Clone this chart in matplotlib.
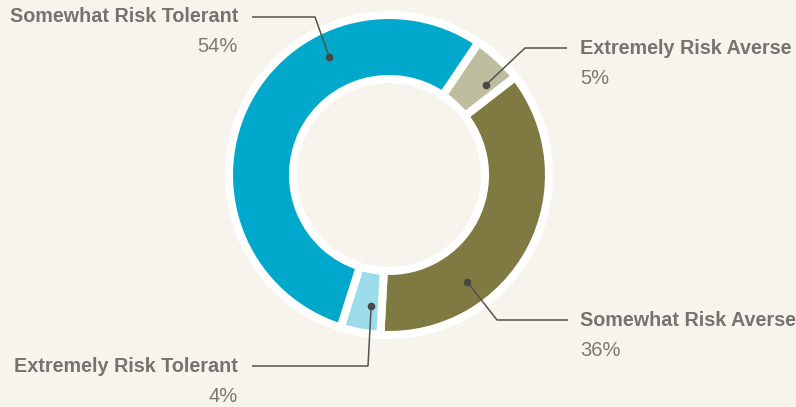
import numpy as np
import matplotlib
matplotlib.use("Agg")
import matplotlib.pyplot as plt
from matplotlib.patches import Wedge

# ---- data ----
categories = ["Extremely Risk Averse", "Somewhat Risk Averse",
              "Extremely Risk Tolerant", "Somewhat Risk Tolerant"]
values = [5, 36, 4, 54]
pct_labels = ["5%", "36%", "4%", "54%"]
colors = ["#bfbd9f", "#7e7a41", "#9cdcea", "#00a8cc"]

W, H = 796, 407
fig = plt.figure(figsize=(W / 100, H / 100), dpi=100)
bg = "#f7f4ee"
fig.patch.set_facecolor(bg)
ax = fig.add_axes([0, 0, 1, 1])
ax.set_facecolor(bg)

cx, cy = 389, H - 175
# white backing ring
ax.add_patch(Wedge((cx, cy), 163, 0, 360, width=70, facecolor="white",
                   edgecolor="none", zorder=1))

lw_pt = 5.8
wedges, _ = ax.pie(values, radius=160, center=(cx, cy),
                   startangle=90 - 34, counterclock=False, colors=colors,
                   wedgeprops=dict(width=64, edgecolor="white",
                                   linewidth=lw_pt, zorder=2),
                   frame=False)
ax.set_xlim(0, W)
ax.set_ylim(0, H)
ax.set_aspect("auto")
ax.axis("off")

# annotation layout (fraction along wedge, dot radius, elbow, line end, text)
frac = [0.72, 0.70, 0.32, 0.69]
dot_r = 132
elbows = [(525, 48), (497, 320), (368, 366), (315, 17)]
ends = [(567, 48), (568, 320), (252, 366), (252, 17)]
text_x = [580, 580, 238, 238]
ha = ["left", "left", "right", "right"]

lc = "#55524d"
tc = "#767270"
for i, w in enumerate(wedges):
    a = np.deg2rad(w.theta2 - (w.theta2 - w.theta1) * frac[i])
    dx, dy = cx + dot_r * np.cos(a), cy + dot_r * np.sin(a)
    ex, ey = elbows[i][0], H - elbows[i][1]
    fx, fy = ends[i][0], H - ends[i][1]
    ax.plot([dx, ex, fx], [dy, ey, fy], color=lc, lw=1.1, zorder=5,
            solid_capstyle="butt")
    ax.plot([dx], [dy], "o", color="#4a4743", ms=4.5, zorder=6)
    ty = elbows[i][1]
    ax.text(text_x[i], H - ty, categories[i], ha=ha[i], va="center",
            fontsize=14.2, fontweight="bold", color=tc,
            family="Liberation Sans")
    ax.text(text_x[i], H - ty - 30, pct_labels[i], ha=ha[i], va="center",
            fontsize=14.5, color="#7d7875", family="Liberation Sans")

fig.savefig("out.png", dpi=100, facecolor=bg)
